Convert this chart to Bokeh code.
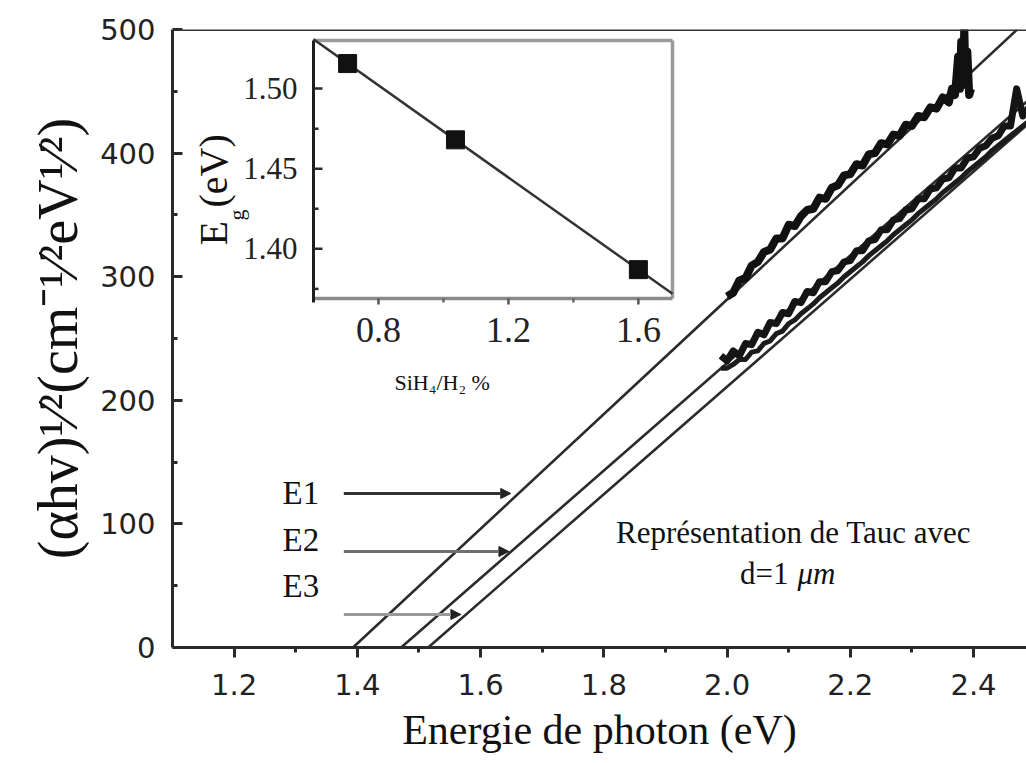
import numpy as np
from bokeh.plotting import figure
from bokeh.models import (Range1d, FixedTicker, PrintfTickFormatter, Span, Label,
                          Arrow, NormalHead)
from bokeh.core.properties import value
from bokeh.embed import file_html
from bokeh.resources import INLINE

# ---------------- data ----------------
x_ticks = [1.2, 1.4, 1.6, 1.8, 2.0, 2.2, 2.4]
x_minor = [1.3, 1.5, 1.7, 1.9, 2.1, 2.3]
y_ticks = [0, 100, 200, 300, 400, 500]
y_minor = [50, 150, 250, 350, 450]

x_title = "Energie de photon (eV)"
y_title = "(αhv)¹⁄²(cm⁻¹⁄²eV¹⁄²)"

# Tauc extrapolation lines (E1, E2, E3)
tauc_x = [[1.393, 2.471], [1.471, 2.50], [1.515, 2.50]]
tauc_y = [[0, 500], [0, 447.6], [0, 428.5]]

# measured spectra
e1_x = [2.00, 2.01, 2.02, 2.03, 2.04, 2.05, 2.06, 2.07, 2.08, 2.09, 2.10, 2.11, 2.12,
        2.13, 2.14, 2.15, 2.16, 2.17, 2.18, 2.19, 2.20, 2.21, 2.22, 2.23, 2.24, 2.25,
        2.26, 2.27, 2.28, 2.29, 2.30, 2.31, 2.32, 2.33, 2.34, 2.35, 2.36, 2.365, 2.37,
        2.375, 2.378, 2.38, 2.383, 2.385, 2.387, 2.39, 2.393, 2.396]
e1_y = [284, 287, 297, 299, 309, 312, 320, 322, 331, 331, 342, 341, 349,
        354, 355, 364, 363, 372, 374, 382, 383, 391, 390, 399, 400, 408,
        407, 415, 414, 423, 422, 430, 429, 437, 436, 445, 441, 452, 447,
        478, 452, 490, 455, 502, 458, 482, 447, 452]

e23_x = [1.99, 2.00, 2.01, 2.02, 2.03, 2.04, 2.05, 2.06, 2.07, 2.08, 2.09, 2.10, 2.11,
         2.12, 2.13, 2.14, 2.15, 2.16, 2.17, 2.18, 2.19, 2.20, 2.21, 2.22, 2.23, 2.24,
         2.25, 2.26, 2.27, 2.28, 2.29, 2.30, 2.31, 2.32, 2.33, 2.34, 2.35, 2.36, 2.37,
         2.38, 2.39, 2.40, 2.41, 2.42, 2.43, 2.44, 2.45, 2.46, 2.47, 2.48, 2.49]
e2_y = [236, 232, 240, 236, 246, 245, 255, 253, 263, 262, 271, 270, 280,
        279, 288, 287, 296, 296, 304, 305, 312, 313, 321, 321, 329, 330,
        338, 338, 346, 347, 354, 355, 363, 363, 371, 372, 379, 380, 388,
        388, 396, 397, 404, 406, 412, 414, 422, 422, 452, 430, 437]
e3_y = [226, 226, 229, 233, 233, 239, 240, 246, 248, 254, 256, 262, 265,
        270, 274, 278, 283, 287, 291, 295, 300, 304, 308, 312, 317, 321,
        325, 329, 334, 338, 342, 346, 351, 355, 359, 363, 368, 372, 376,
        380, 385, 389, 393, 397, 402, 406, 410, 414, 418, 422, 426]

# gap arrows
arrow_names = ["E1", "E2", "E3"]
arrow_x0 = [1.378, 1.378, 1.378]
arrow_x1 = [1.649, 1.646, 1.568]
arrow_y = [124.6, 77.7, 26.7]
name_py = [492.5, 539, 585]            # label centres (px)

# inset: Eg vs SiH4/H2 ratio
inset_ratio = [0.705, 1.037, 1.600]
inset_eg = [1.5156, 1.468, 1.387]
inset_xticks = [0.8, 1.2, 1.6]
inset_xminor = [1.0, 1.4]
inset_yticks = [1.40, 1.45, 1.50]
inset_yminor = [1.375, 1.425, 1.475]

# ---------------- geometry ----------------
W, H = 1026, 763
FL, FR, FT, FB = 172, 1026, 29, 647
XR = (1.1, 2.486)
YR = (0.0, 500.0)
IL, IR, IT, IB = 313, 672, 40, 298          # inset box (px)
IX = (0.6, 1.705)
IY = (1.369, 1.530)


def mx(px):
    return XR[0] + (px - FL) * (XR[1] - XR[0]) / (FR - FL)


def my(py):
    return YR[1] - (py - FT) * (YR[1] - YR[0]) / (FB - FT)


kx = (IX[1] - IX[0]) / (IR - IL)
ky = (IY[1] - IY[0]) / (IB - IT)
ix_range = Range1d(IX[0] - (IL - FL) * kx, IX[1] + (FR - IR) * kx)
iy_range = Range1d(IY[0] - (FB - IB) * ky, IY[1] + (IT - FT) * ky)


def ipx(px):
    return IX[0] + (px - IL) * kx


def ipy(py):
    return IY[1] - (py - IT) * ky


SERIF = value("Liberation Serif")

p = figure(width=W, height=H, x_range=Range1d(*XR), y_range=Range1d(*YR),
           output_backend="svg", toolbar_location=None,
           min_border_left=FL, min_border_right=W - FR,
           min_border_top=FT, min_border_bottom=H - FB)
p.extra_x_ranges = {"ix": ix_range}
p.extra_y_ranges = {"iy": iy_range}
p.grid.visible = False
p.outline_line_color = None
p.background_fill_color = "white"
p.border_fill_color = "white"

ax = p.xaxis[0]
ax.ticker = FixedTicker(ticks=x_ticks, minor_ticks=x_minor)
ax.formatter = PrintfTickFormatter(format="%.1f")
ax.major_tick_out = 10
ax.major_tick_in = 0
ax.minor_tick_out = 5
ax.minor_tick_in = 0
ax.major_label_standoff = 16
ax.axis_label = x_title
ax.axis_label_standoff = 9
ax.axis_label_text_font_size = "42px"

ay = p.yaxis[0]
ay.ticker = FixedTicker(ticks=y_ticks, minor_ticks=y_minor)
ay.formatter = PrintfTickFormatter(format="%d")
ay.major_tick_out = 0
ay.major_tick_in = 10
ay.minor_tick_out = 0
ay.minor_tick_in = 5
ay.major_label_standoff = 17
ay.axis_label = y_title
ay.axis_label_standoff = 8
ay.axis_label_text_font_size = "56px"

for a in (ax, ay):
    a.axis_line_width = 3
    a.axis_line_color = "#2a2a2a"
    a.major_tick_line_width = 3
    a.major_tick_line_color = "#2a2a2a"
    a.minor_tick_line_width = 3
    a.minor_tick_line_color = "#2a2a2a"
    a.major_label_text_font = "DejaVu Sans"
    a.major_label_text_font_size = "29px"
    a.major_label_text_color = "#222222"
    a.axis_label_text_font = "Liberation Serif"
    a.axis_label_text_font_style = "normal"
    a.axis_label_text_color = "#111111"

p.add_layout(Span(location=YR[1], dimension="width", line_color="#333333", line_width=3))

# Tauc lines and spectra
p.multi_line(xs=tauc_x, ys=tauc_y, line_color="#2b2b2b", line_width=2.6)
p.line(e1_x, e1_y, line_color="#111111", line_width=8, line_join="round")
p.line(e23_x, e2_y, line_color="#151515", line_width=7, line_join="round")
p.line(e23_x, e3_y, line_color="#1c1c1c", line_width=5, line_join="round")

# arrows
shaft_colors = ["#333333", "#707070", "#999999"]
for i in range(3):
    p.add_layout(Arrow(end=NormalHead(size=10, fill_color="#222222", line_color="#222222",
                                      line_width=1),
                       x_start=arrow_x0[i], y_start=arrow_y[i],
                       x_end=arrow_x1[i], y_end=arrow_y[i],
                       line_color=shaft_colors[i], line_width=3))
p.text(x=[mx(282)] * 3, y=[my(v) for v in name_py], text=arrow_names, text_font=SERIF,
       text_font_size="33px", text_baseline="middle", text_align="left",
       text_color="#111111")

# annotation
p.add_layout(Label(x=mx(793), y=my(532), text="Représentation de Tauc avec",
                   text_font="Liberation Serif", text_font_size="31px",
                   text_align="center", text_baseline="middle", text_color="#111111"))
p.add_layout(Label(x=mx(788), y=my(573), text="d=1", text_font="Liberation Serif",
                   text_font_size="31px", text_align="right", text_baseline="middle",
                   text_color="#111111"))
p.add_layout(Label(x=mx(797), y=my(573), text="μm", text_font="Liberation Serif",
                   text_font_size="31px", text_font_style="italic", text_align="left",
                   text_baseline="middle", text_color="#111111"))

# ---------------- inset ----------------
IR_ = dict(x_range_name="ix", y_range_name="iy")
p.quad(left=[IX[0]], right=[IX[1]], bottom=[IY[0]], top=[IY[1]], fill_color="white",
       line_color=None, **IR_)
p.segment(x0=[IX[0], IX[1]], y0=[IY[1], IY[0]], x1=[IX[1], IX[1]], y1=[IY[1], IY[1]],
          line_color="#9a9a9a", line_width=3.5, **IR_)
p.segment(x0=[IX[0]], y0=[IY[0]], x1=[IX[1]], y1=[IY[0]], line_color="#8a8a8a",
          line_width=3.5, **IR_)
p.segment(x0=[IX[0]], y0=[IY[0] - 4 * ky], x1=[IX[0]], y1=[IY[1]], line_color="#1e1e1e",
          line_width=3, **IR_)
# ticks
p.segment(x0=[IX[0]] * 3, y0=inset_yticks, x1=[IX[0] + 9 * kx] * 3, y1=inset_yticks,
          line_color="#2a2a2a", line_width=2.5, **IR_)
p.segment(x0=[IX[0]] * 3, y0=inset_yminor, x1=[IX[0] + 5 * kx] * 3, y1=inset_yminor,
          line_color="#2a2a2a", line_width=2.5, **IR_)
p.segment(x0=inset_xticks, y0=[IY[0]] * 3, x1=inset_xticks, y1=[IY[0] - 6 * ky] * 3,
          line_color="#555555", line_width=2.5, **IR_)
p.segment(x0=inset_xminor, y0=[IY[0]] * 2, x1=inset_xminor, y1=[IY[0] - 4 * ky] * 2,
          line_color="#666666", line_width=2.5, **IR_)
# tick labels
p.text(x=[ipx(IL - 16)] * 3, y=inset_yticks, text=["%.2f" % v for v in inset_yticks],
       text_font=SERIF, text_font_size="31px", text_align="right", text_baseline="middle",
       text_color="#222222", **IR_)
p.text(x=inset_xticks, y=[ipy(329)] * 3, text=["%.1f" % v for v in inset_xticks],
       text_font=SERIF, text_font_size="36px", text_align="center",
       text_baseline="middle", text_color="#222222", **IR_)
# fit line + points
coef = np.polyfit(inset_ratio, inset_eg, 1)
p.line(x=[IX[0], IX[1]], y=list(np.polyval(coef, [IX[0], IX[1]])), line_color="#333333",
       line_width=2.5, **IR_)
p.scatter(inset_ratio, inset_eg, marker="square", size=18, fill_color="#111111",
          line_color="#111111", **IR_)
# inset axis titles
p.text(x=[mx(394)], y=[my(382)], text=["SiH₄/H₂  %"], text_font=SERIF,
       text_font_size="22px", text_align="left", text_baseline="middle",
       text_color="#111111")
p.text(x=[mx(213), mx(236), mx(213)], y=[my(245), my(220), my(207)],
       text=["E", "g", "(eV)"], angle=np.pi / 2, text_font=SERIF,
       text_font_size=["40px", "22px", "40px"], text_align="left",
       text_baseline="middle", text_color="#111111")

open("out.html", "w").write(file_html(p, INLINE))
